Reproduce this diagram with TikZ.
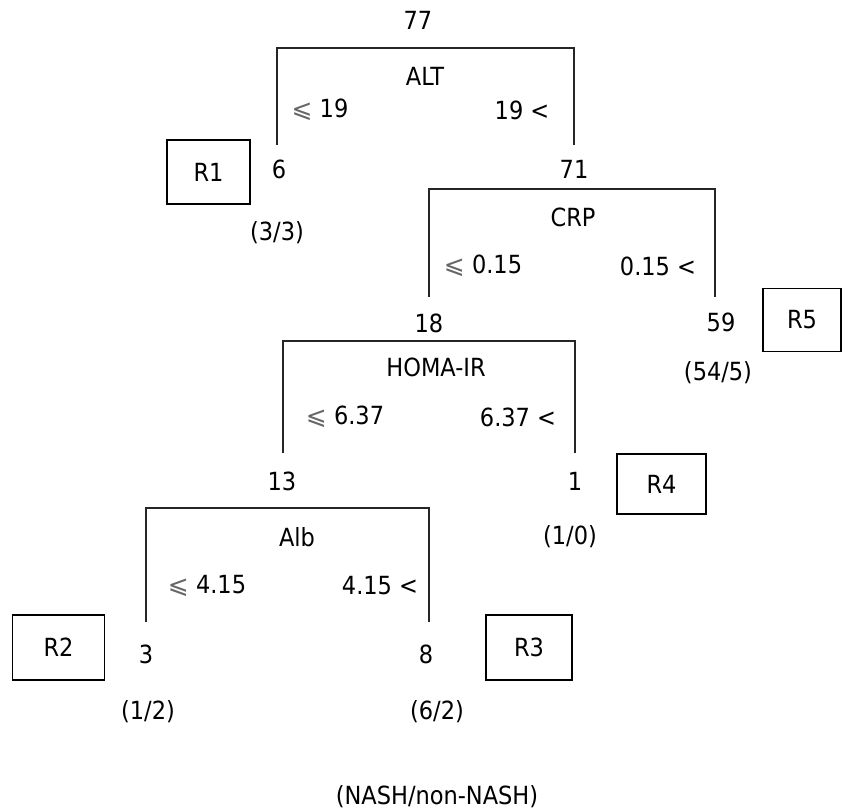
\documentclass[tikz,border=0pt]{standalone}
\usepackage{fontspec}
\setmainfont{DejaVu Sans Condensed}
\newfontfamily\symfam{DejaVu Sans}
\newcommand{\lesign}{{\symfam\color{black!60}⩽}}
\tikzset{
  lbl/.style={inner sep=0pt, anchor=center},
  rbox/.style={draw, line width=1.1pt, minimum width=#1, minimum height=64pt, inner sep=0pt},
  branch/.style={line width=1.1pt, black!85},
}
\begin{document}
\begin{tikzpicture}[x=1pt, y=-1pt, font=\fontsize{25}{29}\selectfont]
\useasboundingbox (0,0) rectangle (843,810);

% ---- root split: ALT ----
\node[lbl] (n77) at (418,20) {77};
\node[lbl] (alt) at (425,76) {ALT};
\node[lbl] (altL) at (320,110) {\lesign\ 19};
\node[lbl] (altR) at (522,110) {19 <};
\coordinate (a1) at (277,145);
\coordinate (a2) at (277,48);
\coordinate (a3) at (574,48);
\coordinate (a4) at (574,145);
\draw[branch] (a1) -- (a2) -- (a3) -- (a4);
\node[lbl] (n6) at (279,169) {6};
\node[lbl] (n71) at (574,169) {71};
\node[lbl] (c6) at (277,233) {(3/3)};
\node[rbox=83pt] (r1) at (208.5,172) {R1};

% ---- CRP split ----
\node[lbl] (crp) at (573,217) {CRP};
\node[lbl] (crpL) at (483,266) {\lesign\ 0.15};
\node[lbl] (crpR) at (658,266) {0.15 <};
\coordinate (b1) at (429,297);
\coordinate (b2) at (429,189);
\coordinate (b3) at (715,189);
\coordinate (b4) at (715,297);
\draw[branch] (b1) -- (b2) -- (b3) -- (b4);
\node[lbl] (n18) at (429,323) {18};
\node[lbl] (n59) at (721,322) {59};
\node[lbl] (c59) at (718,373) {(54/5)};
\node[rbox=78pt, minimum height=63pt] (r5) at (802,320) {R5};

% ---- HOMA-IR split ----
\node[lbl] (homa) at (436,367) {HOMA-IR};
\node[lbl] (homaL) at (345,417) {\lesign\ 6.37};
\node[lbl] (homaR) at (518,417) {6.37 <};
\coordinate (h1) at (283,453);
\coordinate (h2) at (283,341);
\coordinate (h3) at (575,341);
\coordinate (h4) at (575,453);
\draw[branch] (h1) -- (h2) -- (h3) -- (h4);
\node[lbl] (n13) at (282,481) {13};
\node[lbl] (n1) at (575,481) {1};
\node[lbl] (c1) at (570,537) {(1/0)};
\node[rbox=89pt, minimum height=60pt] (r4) at (661.5,484) {R4};

% ---- Alb split ----
\node[lbl] (alb) at (297,537) {Alb};
\node[lbl] (albL) at (207,586) {\lesign\ 4.15};
\node[lbl] (albR) at (380,586) {4.15 <};
\coordinate (d1) at (146,622);
\coordinate (d2) at (146,508);
\coordinate (d3) at (429,508);
\coordinate (d4) at (429,622);
\draw[branch] (d1) -- (d2) -- (d3) -- (d4);
\node[lbl] (n3) at (146,654) {3};
\node[lbl] (n8) at (426,654) {8};
\node[lbl] (c3) at (148,712) {(1/2)};
\node[lbl] (c8) at (437,712) {(6/2)};
\node[rbox=92pt, minimum height=65pt] (r2) at (58.5,647.5) {R2};
\node[rbox=86pt, minimum height=65pt] (r3) at (529,647.5) {R3};

% ---- legend ----
\node[lbl] (legend) at (437,797) {(NASH/non-NASH)};
\end{tikzpicture}
\end{document}
